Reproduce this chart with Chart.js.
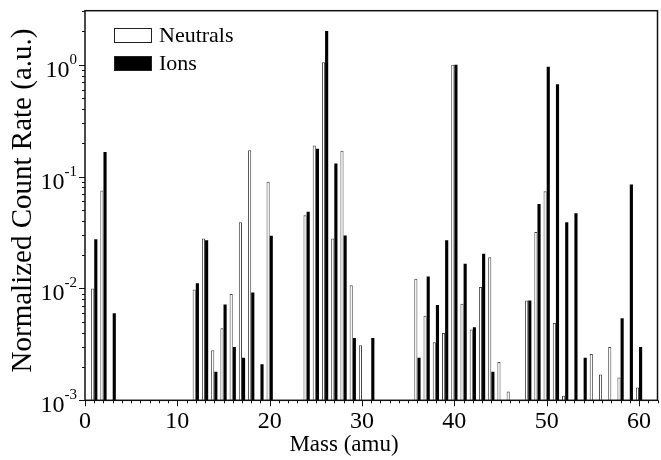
<!DOCTYPE html>
<html><head><meta charset="utf-8">
<script src="https://cdn.jsdelivr.net/npm/chart.js@4/dist/chart.umd.min.js"></script>
<style>html,body{margin:0;padding:0;background:#fff;}#wrap{width:661px;height:460px;position:relative;}</style>
</head><body><div id="wrap"><canvas id="c" width="661" height="460"></canvas></div>
<script>
const masses   = [1,2,3,12,13,14,15,16,17,18,19,20,24,25,26,27,28,29,30,31,36,37,38,39,40,41,42,43,44,45,46,48,49,50,51,52,53,54,55,56,57,58,59,60];
const neutrals = [0.0100,0.075,null,0.0098,0.028,0.0028,0.0044,0.0089,0.039,0.172,null,0.090,0.045,0.19,1.05,0.028,0.17,0.0107,0.0031,null,0.0122,0.0057,0.0033,0.0040,1.0,0.0073,0.0043,0.0103,0.019,0.0022,0.0012,0.0078,0.032,0.074,0.0049,0.0011,null,null,0.0026,0.0017,0.0030,0.0016,null,0.0013];
const ions     = [0.0275,0.166,0.0060,0.0111,0.027,0.0018,0.0072,0.0030,0.0024,0.0092,0.0021,0.0296,0.0485,0.177,2.0,0.131,0.0298,0.0036,null,0.0036,0.0024,0.0128,0.0071,0.027,1.0,0.0166,0.0045,0.0204,0.0018,null,null,0.0078,0.057,0.96,0.67,0.039,0.047,0.0024,null,null,null,0.0054,0.085,0.0030];
const xTickValues = [0,10,20,30,40,50,60];
const yTickExponents = [0,-1,-2,-3];
const seriesNames = ['Neutrals','Ions'];
const xTitle = 'Mass (amu)';
const yTitle = 'Normalized Count Rate (a.u.)';

const FONT = '"Liberation Serif", "Times New Roman", serif';

const deco = {
  id: 'deco',
  afterDraw(chart) {
    const {ctx, chartArea: a, scales: {x, y}} = chart;
    ctx.save();
    // frame
    ctx.strokeStyle = '#111';
    ctx.lineWidth = 1.5;
    ctx.strokeRect(a.left, a.top, a.right - a.left, a.bottom - a.top);
    // ticks
    ctx.lineWidth = 1;
    ctx.beginPath();
    for (let v = 0; v <= x.max; v++) {
      const px = Math.round(x.getPixelForValue(v)) + 0.5;
      const len = (v % 10 === 0) ? 6 : 3;
      ctx.moveTo(px, a.bottom);
      ctx.lineTo(px, a.bottom + len);
    }
    for (let e = -3; e <= 0; e++) {
      for (let k = 1; k <= 9; k++) {
        const v = k * Math.pow(10, e);
        if (v > y.max) break;
        const py = Math.round(y.getPixelForValue(v)) + 0.5;
        const len = (k === 1) ? 6 : 3;
        ctx.moveTo(a.left, py);
        ctx.lineTo(a.left - len, py);
      }
    }
    ctx.stroke();
    // x tick labels
    ctx.fillStyle = '#000';
    ctx.font = '24px ' + FONT;
    ctx.textAlign = 'center';
    ctx.textBaseline = 'alphabetic';
    xTickValues.forEach(v => ctx.fillText(String(v), x.getPixelForValue(v), 428));
    // y tick labels 10^n
    yTickExponents.forEach(e => {
      const py = y.getPixelForValue(Math.pow(10, e));
      const sup = String(e);
      ctx.font = '15px ' + FONT;
      const supW = ctx.measureText(sup).width;
      const right = 77;
      ctx.textAlign = 'left';
      ctx.fillText(sup, right - supW, py - 1);
      ctx.font = '24px ' + FONT;
      ctx.textAlign = 'right';
      ctx.fillText('10', right - supW, py + 12);
    });
    // axis titles
    ctx.font = '23px ' + FONT;
    ctx.textAlign = 'center';
    ctx.fillText(xTitle, 344, 451);
    ctx.save();
    ctx.translate(31, (a.top + a.bottom) / 2 - 5);
    ctx.rotate(-Math.PI / 2);
    ctx.font = '29px ' + FONT;
    ctx.fillText(yTitle, 0, 0);
    ctx.restore();
    // legend
    const ds = chart.data.datasets;
    const rows = [{top: 28, base: 42}, {top: 56, base: 70}];
    ds.forEach((d, i) => {
      ctx.fillStyle = d.backgroundColor;
      ctx.fillRect(114, rows[i].top, 38, 15);
      ctx.strokeStyle = '#222';
      ctx.lineWidth = 1;
      ctx.strokeRect(114.5, rows[i].top + 0.5, 37, 14);
      ctx.fillStyle = '#000';
      ctx.font = '22px ' + FONT;
      ctx.textAlign = 'left';
      ctx.fillText(d.label, 159, rows[i].base);
    });
    ctx.restore();
  }
};

new Chart(document.getElementById('c'), {
  type: 'bar',
  data: {
    datasets: [
      {
        label: seriesNames[0],
        data: masses.map((m, i) => ({x: m, y: neutrals[i]})),
        backgroundColor: '#ffffff',
        borderColor: '#444',
        borderWidth: 1,
        borderSkipped: 'start'
      },
      {
        label: seriesNames[1],
        data: masses.map((m, i) => ({x: m, y: ions[i]})),
        backgroundColor: '#000000',
        borderColor: '#000',
        borderWidth: 0
      }
    ]
  },
  options: {
    responsive: false,
    animation: false,
    devicePixelRatio: 1,
    categoryPercentage: 0.68,
    barPercentage: 1.0,
    layout: {padding: {top: 10.7, right: 3.5, left: 0, bottom: 0}},
    plugins: {legend: {display: false}, tooltip: {enabled: false}},
    scales: {
      x: {
        type: 'linear', min: 0, max: 62, offset: false,
        ticks: {display: false, stepSize: 10},
        grid: {display: false, offset: false},
        border: {display: false},
        afterFit: s => { s.height = 59.7; }
      },
      y: {
        type: 'logarithmic', min: 0.001, max: 3.04,
        ticks: {display: false},
        grid: {display: false},
        border: {display: false},
        afterFit: s => { s.width = 85; }
      }
    }
  },
  plugins: [deco]
});
</script>
</body></html>
